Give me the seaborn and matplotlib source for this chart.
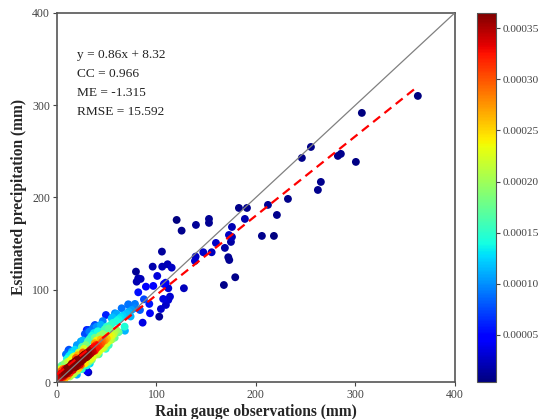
import numpy as np
import pandas as pd
import seaborn as sns
import matplotlib.pyplot as plt
from matplotlib.colors import Normalize
from matplotlib.cm import ScalarMappable

# gauge observations (mm) (many overlap in the red core)
obs = [0, 1, 2, 3, 1, 4, 5, 2, 6, 3, 5, 7, 8, 4, 0, 1, 6, 9, 2, 8, 10, 7, 9, 3, 5, 10, 11, 12, 0, 1, 6, 4,
       0, 0, 1, 2, 2, 3, 4, 4, 5, 6, 6, 7, 8, 8, 9, 10, 10, 11, 12, 12, 13, 14, 14, 15, 16, 16, 17, 18, 18,
       19, 20, 20, 21, 22, 23, 24, 25, 26, 27, 28,
       12, 13, 14, 15, 16, 17, 18, 19, 20, 21, 22, 23, 24, 14, 16, 18, 20, 22, 25, 13, 15, 11, 17, 19, 21, 24, 12, 8, 10, 14, 18, 20, 9, 15, 12,
       26, 27, 28, 29, 30, 31, 32, 33, 34, 35, 36, 37, 38, 39, 40, 26, 28, 30, 32, 34, 36, 38, 40, 42, 44, 27, 29, 31, 33, 35, 37, 25, 24, 40, 42, 44, 45, 30, 22, 20, 26, 28, 36, 41,
       46, 48, 50, 52, 46, 48, 50, 52, 54, 56, 58, 60, 62, 55, 57, 60, 47, 49, 53, 64, 66, 68, 70, 72, 75, 74, 78, 44, 46, 40, 38, 43, 56, 59,
       35, 40, 45, 50, 42, 48, 55, 33, 25, 52, 58, 62,
       11.4, 31.5, 32.5, 31.5, 37.5, 60, 71.7, 29.9, 38.2, 68.3, 49.2, 55.0, 58.3, 65.0, 71.7, 78.4, 83.4, 86.1,
       102.8, 93.5, 104.5, 109.5, 106.8, 111.9, 113.6, 92.8, 87.4, 81.7, 89.4, 96.8, 107.5, 109.2, 100.8, 111.9, 127.6,
       80.1, 84.1, 81.7, 79.4, 96.2, 105.8, 111.2, 115.3, 105.5, 120.3, 125.3, 139.7, 138.7, 139.4, 147.1, 155.5,
       152.8, 152.8, 159.8, 168.8, 167.8, 179.2, 172.2, 173.2, 174.9, 175.9, 172.9, 175.9, 188.9, 182.9, 191.0,
       206.0, 218.1, 212.1, 221.1, 232.2, 262.3, 265.3, 246.2, 255.3, 282.4, 285.4, 300.5, 306.5, 362.8]
# estimated precipitation (mm)
est = [2, 4, 6, 5, 8, 9, 3, 1, 8, 11, 12, 6, 10, 2, 6, 0, 14, 5, 10, 14, 9, 2, 12, 16, 18, 15, 7, 12, 10, 13, 0, 14,
       1, 4, 2, 5, 3, 7, 5, 8, 6, 7, 10, 8, 9, 12, 10, 11, 14, 12, 13, 16, 14, 15, 18, 16, 17, 20, 18, 19, 22,
       20, 21, 24, 22, 23, 25, 26, 27, 28, 29, 30,
       16, 10, 15, 20, 13, 18, 16, 22, 17, 20, 24, 19, 22, 24, 27, 28, 12, 15, 26, 6, 8, 22, 9, 26, 29, 18, 28, 20, 25, 30, 35, 40, 30, 33, 35,
       24, 28, 26, 30, 27, 32, 29, 34, 31, 36, 33, 38, 34, 40, 37, 32, 20, 18, 22, 25, 27, 42, 45, 39, 41, 36, 40, 44, 47, 50, 53, 38, 44, 30, 33, 46, 43, 12, 32, 8, 45, 52, 58, 55,
       44, 45, 47, 50, 52, 57, 60, 58, 62, 64, 55, 66, 68, 50, 52, 56, 38, 36, 45, 70, 72, 60, 74, 76, 78, 71, 80, 62, 66, 60, 48, 50, 70, 73,
       24, 30, 36, 42, 30, 37, 46, 20, 14, 40, 48, 54,
       34.0, 10.5, 54.5, 56.4, 60.7, 73.7, 83.5, 56.4, 61.8, 55.6, 72.6, 69.0, 74.5, 79.9, 84.2, 84.6, 78.0, 64.3,
       70.8, 74.5, 79.1, 83.5, 90.0, 88.9, 92.5, 84.6, 89.6, 97.2, 103.3, 104.1, 106.2, 107.6, 114.9, 101.6, 101.6,
       108.7, 111.7, 112.4, 119.6, 125.0, 125.0, 127.6, 123.9, 141.3, 175.6, 164.0, 170.2, 131.2, 135.9, 140.6, 140.6,
       176.7, 172.4, 150.7, 145.3, 105.1, 113.5, 135.2, 132.2, 151.8, 157.2, 159.3, 168.0, 176.7, 188.6, 188.6,
       158.3, 158.3, 191.9, 181.0, 198.4, 208.1, 216.8, 242.8, 254.7, 245.0, 247.2, 238.5, 291.6, 310.0]

slope = 0.86
intercept = 8.32
stats_lines = ['y = 0.86x + 8.32', 'CC = 0.966', 'ME = -1.315', 'RMSE = 15.592']
cbar_ticks = [0.00005, 0.00010, 0.00015, 0.00020, 0.00025, 0.00030, 0.00035]
# colour range shown on the reference colour bar
dens_lo, dens_hi = 0.000004, 0.000365


def kde_density(x, y):
  # same thing scipy's gaussian_kde does (Scott bandwidth)
  pts = np.vstack([x, y])
  n = pts.shape[1]
  factor = n ** (-1.0 / 6)
  cov = np.cov(pts) * factor ** 2
  inv = np.linalg.inv(cov)
  norm = 1.0 / (2 * np.pi * np.sqrt(np.linalg.det(cov)))
  d = pts[:, :, None] - pts[:, None, :]
  q = np.einsum('ijk,il,ljk->jk', d, inv, d)
  return norm * np.exp(-0.5 * q).mean(axis=1)


df = pd.DataFrame({'obs': obs, 'est': est})
df['density'] = kde_density(df['obs'].values, df['est'].values)
df = df.sort_values('density')

sns.set_style('ticks')
plt.rcParams['font.family'] = ['Liberation Serif', 'DejaVu Serif']

fig = plt.figure(figsize=(5.48, 4.19), dpi=100)
ax = fig.add_axes([0.104, 0.0883, 0.726, 0.881])
cax = fig.add_axes([0.870, 0.0883, 0.0347, 0.881])

jet = plt.get_cmap('jet')
dnorm = Normalize(vmin=dens_lo, vmax=dens_hi, clip=True)
sns.scatterplot(data=df, x='obs', y='est', hue='density', palette=jet, hue_norm=dnorm,
                s=32, linewidth=0, legend=False, ax=ax, zorder=2)

ax.plot([0, 400], [0, 400], color='gray', lw=0.9, zorder=3)
xs = np.array([0, max(obs)])
ax.plot(xs, slope * xs + intercept, color='red', ls='--', lw=1.6, dashes=(4, 2.5), zorder=4)

ax.set_xlim(0, 400)
ax.set_ylim(0, 400)
ax.set_xticks([0, 100, 200, 300, 400])
ax.set_yticks([0, 100, 200, 300, 400])
ax.tick_params(labelsize=8.5, colors='#444444', length=3, pad=2)
for sp in ax.spines.values():
  sp.set_color('#555555')
  sp.set_linewidth(1.2)
ax.set_xlabel('Rain gauge observations (mm)', fontsize=11.2, fontweight='bold', labelpad=2)
ax.set_ylabel('Estimated precipitation (mm)', fontsize=11.2, fontweight='bold', labelpad=4)

for i, line in enumerate(stats_lines):
  ax.text(20, 354 - i * 20.3, line, fontsize=9.6, color='#222222', va='center')

sm = ScalarMappable(norm=Normalize(vmin=dens_lo, vmax=dens_hi), cmap=jet)
cb = fig.colorbar(sm, cax=cax)
cb.set_ticks(cbar_ticks)
cb.ax.set_yticklabels(['%.5f' % t for t in cbar_ticks])
cb.ax.tick_params(labelsize=8.2, colors='#444444', length=3, pad=2)
cb.outline.set_edgecolor('#555555')

fig.savefig('out.png', dpi=100)
